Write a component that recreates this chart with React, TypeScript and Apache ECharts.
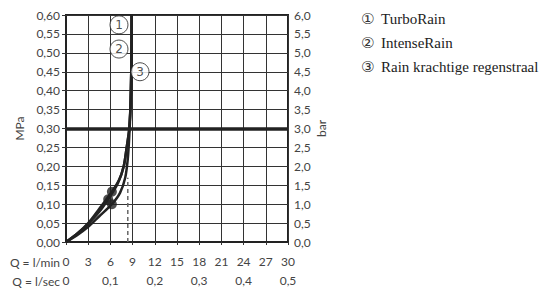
import React, { useEffect, useRef } from "react";
import * as echarts from "echarts";

const flowTicksMin = [0, 3, 6, 9, 12, 15, 18, 21, 24, 27, 30];
const turboRain: [number, number][] = [[0,0],[1.5,0.022],[3,0.05],[4.5,0.088],[6.2,0.133],[7.2,0.165],[7.8,0.2],[8.2,0.25],[8.55,0.3],[8.75,0.38],[8.85,0.5],[8.87,0.6]];
const intenseRain: [number, number][] = [[0,0],[1.5,0.022],[3,0.048],[4.5,0.08],[5.7,0.113],[7,0.155],[7.8,0.2],[8.2,0.25],[8.55,0.3],[8.75,0.38],[8.85,0.5],[8.87,0.6]];
const rainStrong: [number, number][] = [[0,0],[1.5,0.018],[3,0.04],[4.5,0.068],[6.2,0.1],[7.3,0.13],[8.0,0.17],[8.35,0.22],[8.55,0.28],[8.7,0.35],[8.82,0.45],[8.87,0.6]];
const markers: [number, number][] = [[6.2, 0.133], [5.7, 0.113], [6.2, 0.1]];
const labelPoints: [number, number, string][] = [[7.16, 0.574, "1"], [7.16, 0.51, "2"], [10.0, 0.45, "3"]];
const limitLine: [number, number][] = [[8.35, 0], [8.35, 0.17]];
const refPressure = 0.3;
const legendNumbers = ["①", "②", "③"];
const legendLabels = ["TurboRain", "IntenseRain", "Rain krachtige regenstraal"];

const FONT = "Lato";
const TXT = "#444";

export default function App() {
  const ref = useRef<HTMLDivElement>(null);
  useEffect(() => {
    document.body.style.margin = "0";
    const chart = echarts.init(ref.current!, undefined, { renderer: "svg" });
    const lineStyle = { color: "#222", width: 2.5 };
    chart.setOption({
      animation: false,
      grid: { left: 66, right: 253, top: 15, bottom: 50, show: true, borderColor: "#222", borderWidth: 2 },
      xAxis: [
        {
          type: "value", min: 0, max: 30, interval: 3, position: "bottom",
          axisLine: { show: true, lineStyle: { color: "#222", width: 2 } },
          axisTick: { show: true, length: 3, lineStyle: { color: "#333" } },
          splitLine: { show: true, lineStyle: { color: "#333", width: 1 } },
          axisLabel: { margin: 13, color: TXT, fontFamily: FONT, fontSize: 12 },
        },
        {
          type: "value", min: 0, max: 0.5, interval: 0.1, position: "bottom", offset: 19,
          axisLine: { show: false }, axisTick: { show: false }, splitLine: { show: false },
          axisLabel: { margin: 13, color: TXT, fontFamily: FONT, fontSize: 12,
            formatter: (v: number) => (v === 0 ? "0" : v.toFixed(1).replace(".", ",")) },
        },
      ],
      yAxis: [
        {
          type: "value", min: 0, max: 0.6, interval: 0.05, position: "left",
          name: "MPa", nameLocation: "middle", nameGap: 41, nameRotate: 90,
          nameTextStyle: { color: TXT, fontFamily: FONT, fontSize: 12 },
          axisLine: { show: true, lineStyle: { color: "#222", width: 2 } },
          axisTick: { show: true, length: 4, lineStyle: { color: "#333" } },
          splitLine: { show: true, lineStyle: { color: "#333", width: 1 } },
          axisLabel: { margin: 6, color: TXT, fontFamily: FONT, fontSize: 12,
            formatter: (v: number) => v.toFixed(2).replace(".", ",") },
        },
        {
          type: "value", min: 0, max: 6, interval: 0.5, position: "right",
          name: "bar", nameLocation: "middle", nameGap: 27, nameRotate: 90,
          nameTextStyle: { color: TXT, fontFamily: FONT, fontSize: 12 },
          axisLine: { show: true, lineStyle: { color: "#222", width: 2 } },
          axisTick: { show: true, length: 4, lineStyle: { color: "#333" } },
          splitLine: { show: false },
          axisLabel: { margin: 6, color: TXT, fontFamily: FONT, fontSize: 12,
            formatter: (v: number) => v.toFixed(1).replace(".", ",") },
        },
      ],
      series: [
        {
          type: "line", data: limitLine, symbol: "none", silent: true,
          lineStyle: { color: "#666", width: 1.5, type: [4, 3] }, z: 2,
        },
        {
          type: "line", data: turboRain, symbol: "none", smooth: 0.3, lineStyle, z: 3,
          markLine: { silent: true, symbol: "none", label: { show: false },
            lineStyle: { color: "#222", width: 3.5, type: "solid" }, data: [{ yAxis: refPressure }] },
        },
        { type: "line", data: intenseRain, symbol: "none", smooth: 0.3, lineStyle, z: 3 },
        { type: "line", data: rainStrong, symbol: "none", smooth: 0.3, lineStyle, z: 3 },
        {
          type: "scatter", data: markers, symbol: "circle", symbolSize: 10,
          itemStyle: { color: "#222" }, z: 4,
        },
        {
          type: "scatter", data: labelPoints.map((p) => [p[0], p[1], p[2]]), symbol: "circle", symbolSize: 18,
          itemStyle: { color: "#fff", borderColor: "#222", borderWidth: 1 }, z: 5,
          label: { show: true, position: "inside", color: "#222", fontFamily: "DejaVu Sans", fontSize: 12,
            formatter: (p: any) => p.value[2] },
        },
      ],
      graphic: [
        { type: "text", x: 60, y: 256, style: { text: "Q = l/min", fill: TXT, fontFamily: FONT, fontSize: 12, textAlign: "right" } },
        { type: "text", x: 60, y: 275, style: { text: "Q = l/sec", fill: TXT, fontFamily: FONT, fontSize: 12, textAlign: "right" } },
        ...legendNumbers.map((t, i) => ({
          type: "text", x: 361, y: 11 + i * 24,
          style: { text: t, fill: "#333", fontFamily: "DejaVu Sans", fontSize: 15 },
        })),
        ...legendLabels.map((t, i) => ({
          type: "text", x: 381, y: 11 + i * 24,
          style: { text: t, fill: "#222", font: "15px 'Liberation Serif', 'Times New Roman', serif" },
        })),
      ],
    });
    return () => chart.dispose();
  }, []);
  return <div ref={ref} style={{ width: 541, height: 292 }} />;
}
